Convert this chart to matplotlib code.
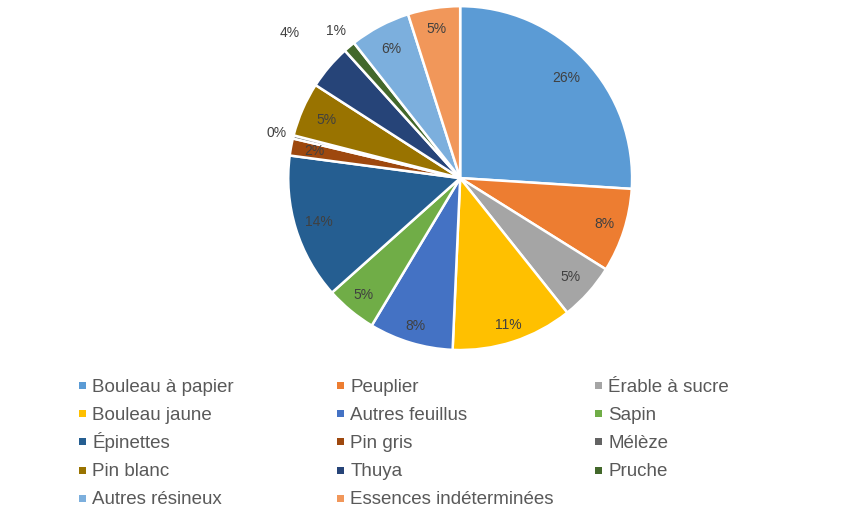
import matplotlib
matplotlib.use("Agg")
import matplotlib.pyplot as plt
import numpy as np
from matplotlib.patches import Rectangle

categories = ["Bouleau à papier", "Peuplier", "Érable à sucre", "Bouleau jaune",
              "Autres feuillus", "Sapin", "Épinettes", "Pin gris", "Mélèze",
              "Pin blanc", "Thuya", "Pruche", "Autres résineux",
              "Essences indéterminées"]
values = [26.0, 7.9, 5.4, 11.4, 7.9, 4.8, 13.7, 1.6, 0.3, 5.1, 4.2, 1.1, 5.7, 4.9]
labels = ["26%", "8%", "5%", "11%", "8%", "5%", "14%", "2%", "0%", "5%", "4%", "1%", "6%", "5%"]
colors = ["#5B9BD5", "#ED7D31", "#A5A5A5", "#FFC000", "#4472C4", "#70AD47",
          "#255E91", "#9E480E", "#636363", "#997300", "#264478", "#43682B",
          "#7CAFDD", "#F1975A"]
label_r = [0.85, 0.88, 0.86, 0.9, 0.9, 0.88, 0.86, 0.86, 1.1, 0.85, 1.3, 1.12, 0.85, 0.88]

plt.rcParams['font.family'] = ['Liberation Sans', 'DejaVu Sans']
W, H = 868, 514
fig = plt.figure(figsize=(W / 100, H / 100), dpi=100)
ax = fig.add_axes([0.332, 0.319, 0.3963, 0.669])
wedges, _ = ax.pie(values, colors=colors, startangle=90, counterclock=False,
                   wedgeprops=dict(edgecolor="white", linewidth=1.8))
ax.set_xlim(-1, 1)
ax.set_ylim(-1, 1)
ax.set_aspect("equal")

for w, lab, r in zip(wedges, labels, label_r):
    ang = np.deg2rad((w.theta1 + w.theta2) / 2)
    ax.text(r * np.cos(ang), r * np.sin(ang), lab, ha="center", va="center",
            fontsize=10, color="#404040")

# legend: 3 columns, row-major
col_x = [82.5, 340.5, 598.5]
row_y = [385, 413.5, 441.5, 470, 498]
sq = 7
for i, (name, c) in enumerate(zip(categories, colors)):
    r, k = divmod(i, 3)
    cx, cy = col_x[k], row_y[r]
    fig.patches.append(Rectangle(((cx - sq / 2) / W, 1 - (cy + sq / 2) / H), sq / W, sq / H,
                                 transform=fig.transFigure, facecolor=c, edgecolor="none"))
    fig.text((cx + 10) / W, 1 - (cy + 6.5) / H, name, ha="left", va="baseline",
             fontsize=13.5, color="#595959")
fig.savefig("out.png", dpi=100)
